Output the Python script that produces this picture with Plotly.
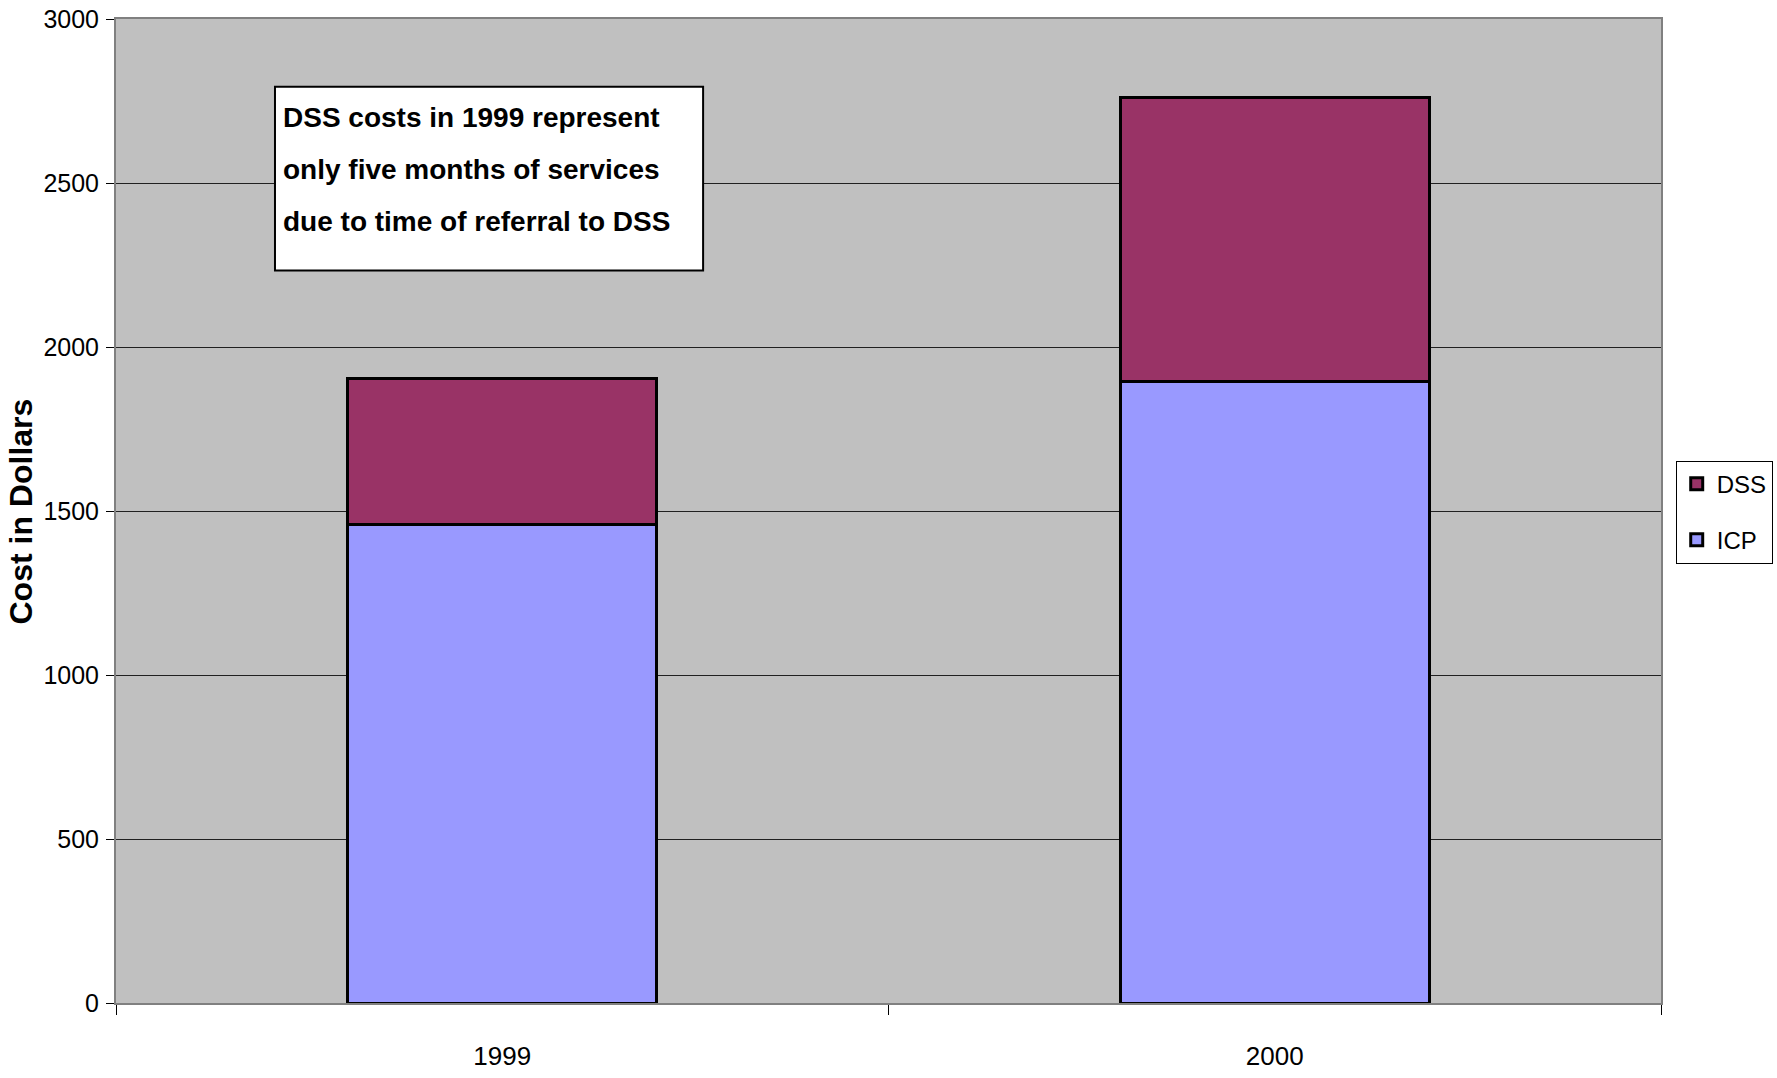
import plotly.graph_objects as go

years = ["1999", "2000"]
icp = [1460, 1895]
dss = [445, 865]
y_ticks = [0, 500, 1000, 1500, 2000, 2500, 3000]
note_lines = [
    "DSS costs in 1999 represent",
    "only five months of services",
    "due to time of referral to DSS",
]

FONT = "Liberation Sans, Arial, sans-serif"

fig = go.Figure()
fig.add_trace(go.Bar(x=years, y=icp, name="ICP", legendgroup="icp", legendrank=2,
                     marker=dict(color="#9999FF", line=dict(color="black", width=3))))
fig.add_trace(go.Bar(x=years, y=dss, name="DSS", legendgroup="dss", legendrank=1,
                     marker=dict(color="#993366", line=dict(color="black", width=3))))

fig.update_layout(
    barmode="stack",
    bargap=0.6,
    width=1777, height=1078,
    margin=dict(l=116, r=116, t=19, b=75, autoexpand=False),
    paper_bgcolor="white",
    plot_bgcolor="#C0C0C0",
    font=dict(family=FONT, size=26, color="black"),
    showlegend=True,
    legend=dict(
        traceorder="grouped",
        xref="container", yref="container",
        x=0.943, xanchor="left", y=0.525, yanchor="middle",
        bgcolor="white", bordercolor="black", borderwidth=1,
        font=dict(family=FONT, size=24, color="black"),
        itemwidth=30,
        tracegroupgap=22,
    ),
    xaxis=dict(
        type="category",
        automargin=False,
        tickson="boundaries",
        ticks="outside", ticklen=10, tickcolor="black", tickwidth=1,
        showline=True, linecolor="#808080", linewidth=2, mirror=True,
        showgrid=False,
        ticklabelstandoff=29,
        tickfont=dict(family=FONT, size=26),
    ),
    yaxis=dict(
        range=[0, 3000],
        automargin=False,
        tickvals=y_ticks,
        ticks="outside", ticklen=8, tickcolor="black", tickwidth=1,
        showline=True, linecolor="#808080", linewidth=2, mirror=True,
        showgrid=True, gridcolor="#202020", gridwidth=1,
        zeroline=False,
        ticklabelstandoff=2,
        tickfont=dict(family=FONT, size=25),
    ),
)

# y-axis title
fig.add_annotation(xref="paper", yref="paper", x=-0.0745, y=0.4994,
                   xanchor="left", yanchor="middle", showarrow=False,
                   textangle=-90, text="<b>Cost in Dollars</b>",
                   font=dict(family=FONT, size=32, color="black"))

# note box
fig.add_shape(type="rect", xref="paper", yref="paper",
              x0=0.1029, x1=0.380, y0=0.7443, y1=0.9312,
              fillcolor="white", line=dict(color="black", width=2), layer="above")

line_y = [0.8999, 0.8468, 0.7939]
for txt, yy in zip(note_lines, line_y):
    fig.add_annotation(xref="paper", yref="paper", x=0.1068, y=yy,
                       xanchor="left", yanchor="middle", showarrow=False,
                       text="<b>" + txt + "</b>",
                       font=dict(family=FONT, size=28, color="black"))

fig.write_html("out.html", config={"displayModeBar": False},
               post_script="document.body.style.margin='0';")
